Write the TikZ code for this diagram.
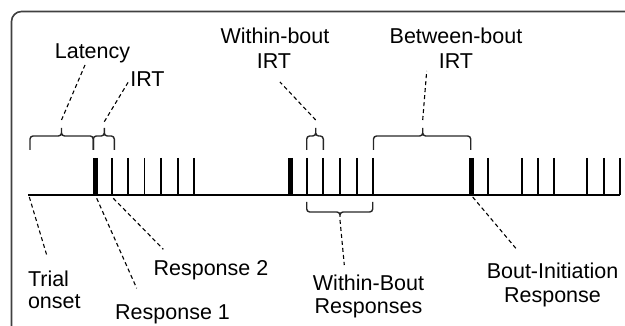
\documentclass[tikz,border=0pt]{standalone}
\usepackage{fontspec}
\setmainfont{Liberation Sans}
\newcommand\mybrc[6]{\draw[brk] (#1,#4) |- (#2,#5) -- (#2,#6) (#3,#4) |- (#2,#5) -- (#2,#6);}
\begin{document}
\begin{tikzpicture}[x=1pt,y=-1pt,
  lbl/.style={font=\fontsize{21.5}{25}\selectfont, inner sep=0pt, anchor=base, text=black},
  lblw/.style={lbl, anchor=base west},
  tk/.style={line width=1.8pt, black},
  bigtk/.style={line width=5pt, black},
  axisline/.style={line width=1.8pt, black},
  lead/.style={dash pattern=on 4pt off 3pt, line width=1.1pt, black},
  brk/.style={line width=1.4pt, black!85, rounded corners=3pt},
  frame/.style={line width=1.6pt, black!75, rounded corners=10pt}]
\useasboundingbox (0,0) rectangle (625,326);
\clip (0,0) rectangle (625,326);
\draw[frame] (11.5,340) -- (11.5,11.5) -- (640,11.5);

% time line
\draw[axisline] (28,195) -- (620,195);
\foreach \x in {111.7,128.3,144.5,161,177.7,194.3,
                306.7,323.3,340,356.7,372.7,
                488.3,521.7,537.7,554,587.3,604,620}
  \draw[tk] (\x,158) -- (\x,195);
\foreach \x in {95.5,290.8,471.2}
  \draw[bigtk] (\x,158) -- (\x,195);

% brackets
\mybrc{30}{61.5}{93.3}{150}{136}{128}
\mybrc{93.3}{104.3}{114.3}{150}{136}{128}
\mybrc{306.7}{315.7}{323.3}{150}{136}{128}
\mybrc{373.5}{422.7}{470.7}{150}{136}{128}
\mybrc{306.7}{340}{372.7}{202}{212}{217}

% labels
\node[lbl] (lat) at (92.5,58.6) {Latency};
\node[lbl] (irt) at (147.5,87) {IRT};
\node[lbl] (wb1) at (275,43.6) {Within-bout};
\node[lbl] (wb2) at (274,68.6) {IRT};
\node[lbl] (bb1) at (456,43.6) {Between-bout};
\node[lbl] (bb2) at (456,68.6) {IRT};
\node[lbl] (wr1) at (368.5,290.3) {Within-Bout};
\node[lbl] (wr2) at (368.5,313.5) {Responses};
\node[lbl] (bi1) at (552.5,278.6) {Bout-Initiation};
\node[lbl] (bi2) at (552.5,302.6) {Response};
\node[lblw] (tr1) at (27.8,286.5) {Trial};
\node[lblw] (tr2) at (27.8,308.3) {onset};
\node[lblw] (r2) at (153.4,275.8) {Response 2};
\node[lblw] (r1) at (115,320) {Response 1};

% connector ends
\coordinate (latT) at (61.5,120);   \coordinate (latE) at (85,65);
\coordinate (irtT) at (104.3,121.7);\coordinate (irtE) at (128.3,82);
\coordinate (wbT) at (315.7,120);   \coordinate (wbE) at (280,82);
\coordinate (bbT) at (422.7,120);   \coordinate (bbE) at (426.7,71);
\coordinate (wrT) at (340,220);     \coordinate (wrE) at (344.3,265);
\coordinate (trT) at (29.3,197);    \coordinate (trE) at (46.7,255);
\coordinate (r1T) at (96.7,198.3);  \coordinate (r1E) at (136.7,288.3);
\coordinate (r2T) at (113.3,198.3); \coordinate (r2E) at (163.3,249.3);
\coordinate (biT) at (472.7,197);   \coordinate (biE) at (517.3,250);

\foreach \a in {lat,irt,wb,bb,wr,tr,r1,r2,bi}
  \draw[lead] (\a T) -- (\a E);
\end{tikzpicture}
\end{document}
